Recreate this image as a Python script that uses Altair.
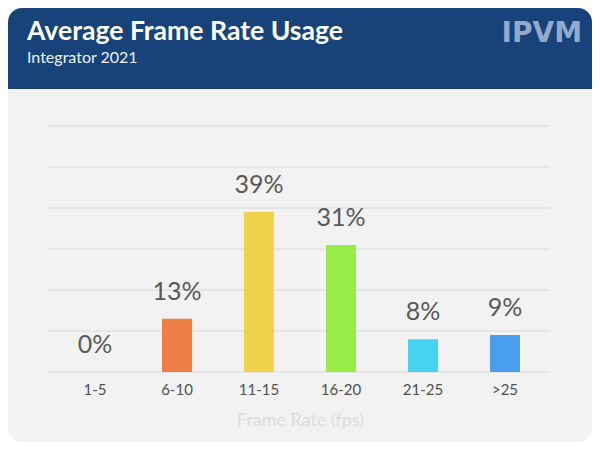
import altair as alt
import pandas as pd

categories = ["1-5", "6-10", "11-15", "16-20", "21-25", ">25"]
values = [0, 13, 39, 31, 8, 9]
labels = ["0%", "13%", "39%", "31%", "8%", "9%"]
colors = ["#E8553F", "#F07F46", "#EFD14A", "#97EC45", "#45D3F0", "#4A9EF0"]
grid_values = [0, 10, 20, 30, 40, 50, 60]

title_text = "Average Frame Rate Usage"
subtitle_text = "Integrator 2021"
logo_text = "IPVM"
x_title = "Frame Rate (fps)"

df = pd.DataFrame({"cat": categories, "val": values, "lab": labels})
gdf = pd.DataFrame({"g": grid_values})
one = pd.DataFrame({"a": [0]})

W, H = 500, 246
PL, PT, PR, PB = 42, 118, 42, 70

yscale = alt.Scale(domain=[0, 60])

xenc = alt.X("cat:N", sort=categories,
             scale=alt.Scale(paddingInner=0.634, paddingOuter=0.366),
             axis=alt.Axis(title=x_title, labelAngle=0, labelFont="Lato", labelFontSize=15,
                           labelColor="#505050", labelPadding=10, ticks=False, domain=False,
                           grid=False, titleFont="Lato", titleFontSize=18, titleFontWeight="normal",
                           titleColor="#DCDCDC", titlePadding=14, zindex=1))
yenc = alt.Y("val:Q", scale=yscale, axis=None)

card = alt.Chart(one).mark_rect(color="#F2F2F2", cornerRadius=14).encode(
    x=alt.value(-PL), x2=alt.value(W + PR), y=alt.value(-PT), y2=alt.value(H + PB))
header = alt.Chart(one).mark_rect(color="#17437A", cornerRadiusTopLeft=14,
                                  cornerRadiusTopRight=14).encode(
    x=alt.value(-PL), x2=alt.value(W + PR), y=alt.value(-PT), y2=alt.value(-37))
title = alt.Chart(one).mark_text(font="Lato", fontSize=26.6, fontWeight="bold", color="#FFFFFF",
                                 align="left", baseline="alphabetic").encode(
    x=alt.value(-23), y=alt.value(-86), text=alt.value(title_text))
subtitle = alt.Chart(one).mark_text(font="Lato", fontSize=16, color="#EEF2F7",
                                    align="left", baseline="alphabetic").encode(
    x=alt.value(-23), y=alt.value(-62.7), text=alt.value(subtitle_text))
logo = alt.Chart(one).mark_text(font="DejaVu Sans", fontSize=28, fontWeight="bold",
                                color="#93AACB", align="right", baseline="alphabetic").encode(
    x=alt.value(532), y=alt.value(-84.3), text=alt.value(logo_text))

grid = alt.Chart(gdf).mark_rule(color="#DADADA", strokeWidth=1).encode(
    y=alt.Y("g:Q", scale=yscale, axis=None), x=alt.value(-2), x2=alt.value(W))

bars = alt.Chart(df).mark_bar().encode(
    x=xenc, y=yenc,
    color=alt.Color("cat:N", sort=categories,
                    scale=alt.Scale(domain=categories, range=colors), legend=None))
texts = alt.Chart(df).mark_text(font="Lato", fontSize=25, color="#595959",
                                baseline="alphabetic", dy=-19).encode(
    x=alt.X("cat:N", sort=categories), y=alt.Y("val:Q"), text="lab:N")

chart = alt.layer(card, header, title, subtitle, logo, grid, bars, texts).properties(
    width=W, height=H,
    autosize=alt.AutoSizeParams(type="none"),
    padding={"left": PL, "top": PT, "right": PR, "bottom": PB},
    background="white",
).configure_view(stroke=None)

chart.save("out.html", embed_options={"renderer": "svg", "actions": False})
